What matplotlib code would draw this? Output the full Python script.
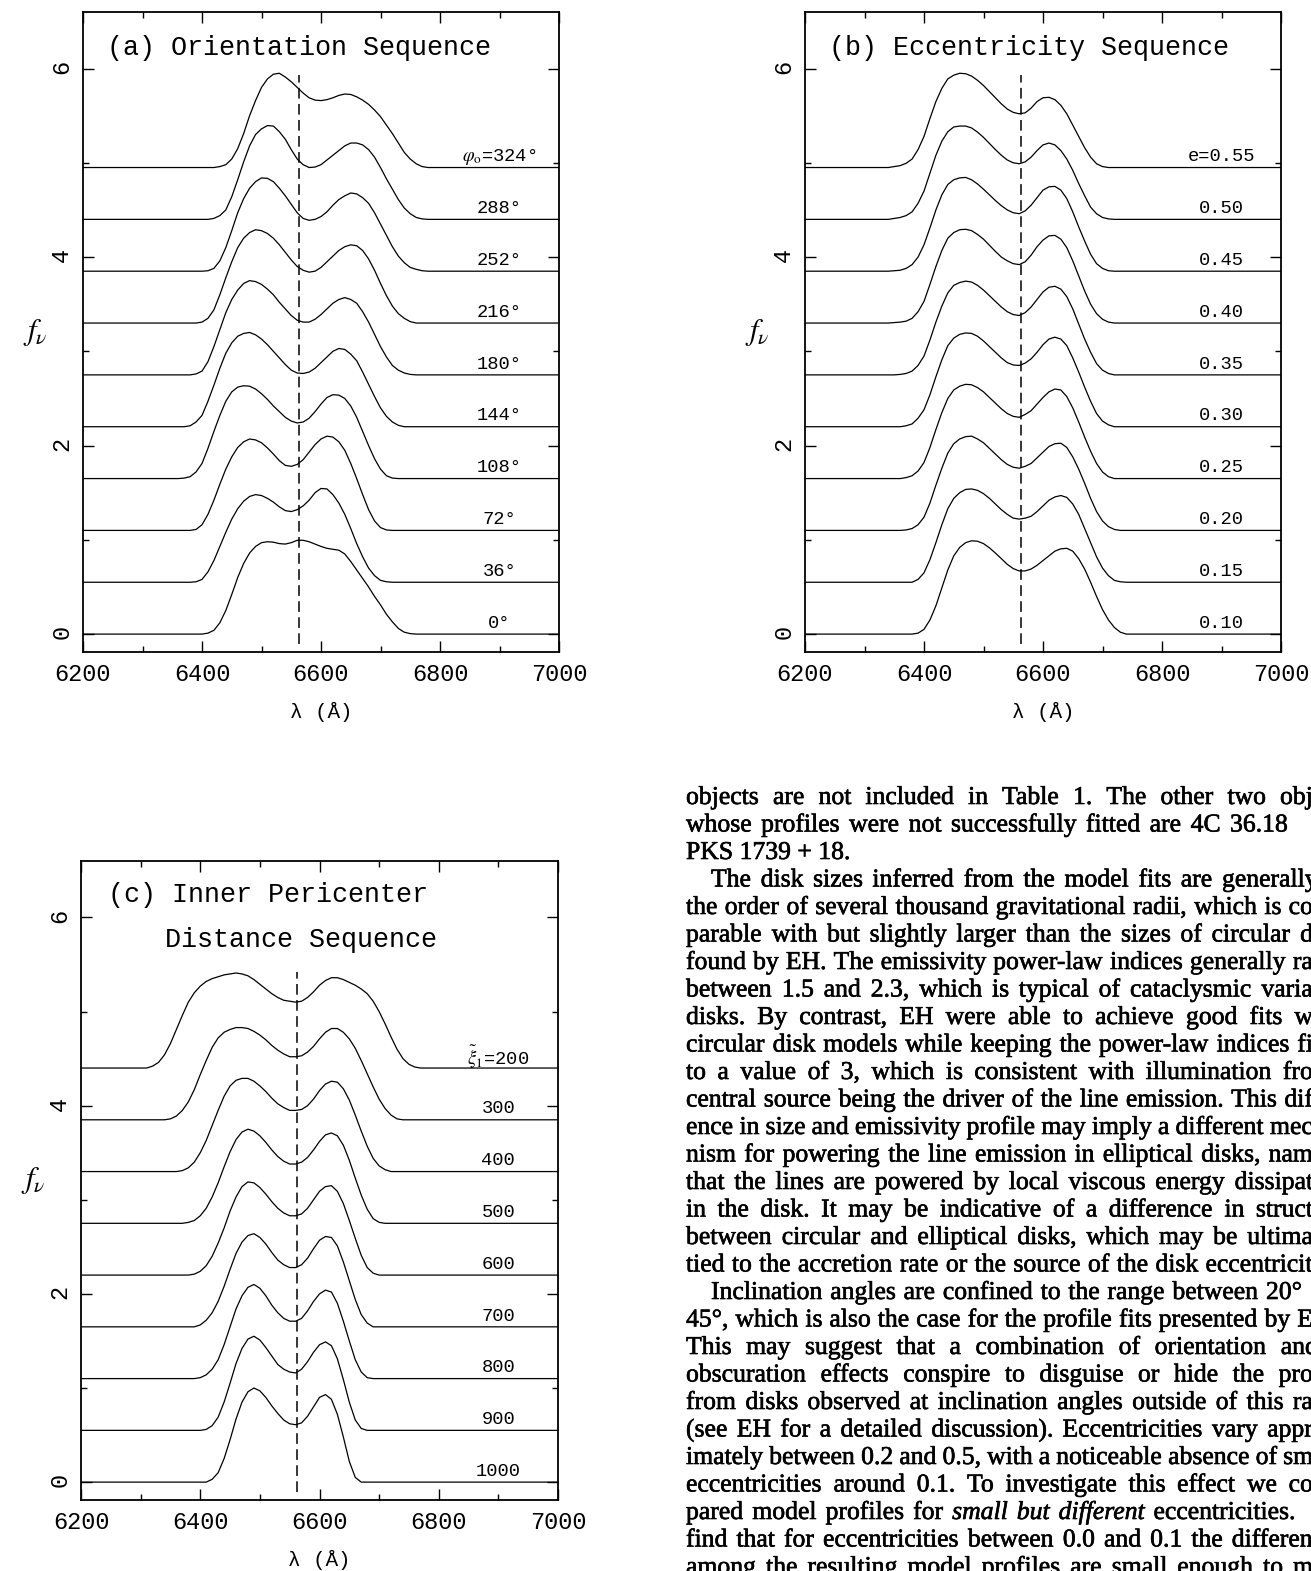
import matplotlib
matplotlib.use("Agg")
import matplotlib.pyplot as plt
import matplotlib.patheffects as pe

# ---------------------------------------------------------------- data
HALPHA = 6563.0
OFFSET = 0.55

# wavelength grid for panels (a) and (b): 6200, 6340..6800 every 10 A, 7000
GRID_AB = [6200] + list(range(6340, 6810, 10)) + [7000]

# panel (a): orientation sequence (bottom to top)
ORIENT_LABELS = ["0°", "36°", "72°", "108°", "144°", "180°", "216°", "252°",
                 "288°", r"$\varphi_{\rm o}$=324°"]
phi0 = ([0] + [0, 0, 0, 0, 0, 0,
               0, 0.01, 0.04, 0.12, 0.25, 0.42, 0.60, 0.75, 0.86, 0.93,
               0.97, 0.98, 0.975, 0.96, 0.955, 0.97, 0.995, 0.995, 0.98, 0.955,
               0.93, 0.91, 0.90, 0.89, 0.85, 0.77, 0.68, 0.59, 0.50, 0.40,
               0.31, 0.21, 0.13, 0.06, 0.02, 0.005, 0, 0, 0, 0,
               0] + [0])
phi36 = ([0] + [0, 0, 0, 0, 0, 0.005,
                0.03, 0.11, 0.23, 0.38, 0.53, 0.67, 0.78, 0.86, 0.91, 0.93,
                0.92, 0.89, 0.85, 0.80, 0.76, 0.75, 0.77, 0.81, 0.87, 0.95,
                0.995, 0.99, 0.93, 0.84, 0.72, 0.57, 0.41, 0.27, 0.15, 0.07,
                0.02, 0.005, 0, 0, 0, 0, 0, 0, 0, 0,
                0] + [0])
phi72 = ([0] + [0, 0, 0, 0, 0, 0.01,
                0.06, 0.17, 0.32, 0.49, 0.65, 0.78, 0.88, 0.94, 0.97, 0.96,
                0.93, 0.875, 0.81, 0.74, 0.69, 0.68, 0.70, 0.75, 0.83, 0.91,
                0.97, 1.00, 0.99, 0.94, 0.85, 0.71, 0.55, 0.38, 0.22, 0.10,
                0.03, 0.005, 0, 0, 0, 0, 0, 0, 0, 0,
                0] + [0])
phi108 = ([0] + [0, 0, 0, 0.005, 0.02, 0.07,
                 0.16, 0.32, 0.50, 0.67, 0.82, 0.92, 0.97, 0.985, 0.98, 0.95,
                 0.90, 0.84, 0.77, 0.71, 0.65, 0.61, 0.59, 0.60, 0.64, 0.71,
                 0.79, 0.86, 0.89, 0.885, 0.85, 0.77, 0.65, 0.50, 0.35, 0.21,
                 0.10, 0.03, 0.005, 0, 0, 0, 0, 0, 0, 0,
                 0] + [0])
phi144 = ([0] + [0, 0, 0, 0, 0.01, 0.05,
                 0.12, 0.27, 0.44, 0.62, 0.78, 0.89, 0.96, 0.99, 1.00, 0.975,
                 0.93, 0.87, 0.80, 0.73, 0.66, 0.60, 0.57, 0.565, 0.58, 0.62,
                 0.68, 0.74, 0.80, 0.83, 0.82, 0.77, 0.70, 0.58, 0.45, 0.32,
                 0.20, 0.11, 0.05, 0.015, 0, 0, 0, 0, 0, 0,
                 0] + [0])
phi180 = ([0] + [0, 0, 0, 0, 0, 0.01,
                 0.04, 0.14, 0.30, 0.48, 0.66, 0.80, 0.90, 0.97, 1.00, 0.99,
                 0.96, 0.91, 0.85, 0.77, 0.70, 0.63, 0.58, 0.56, 0.56, 0.59,
                 0.64, 0.70, 0.76, 0.80, 0.82, 0.80, 0.76, 0.67, 0.56, 0.43,
                 0.30, 0.19, 0.10, 0.05, 0.02, 0.005, 0, 0, 0, 0,
                 0] + [0])
phi216 = ([0] + [0, 0, 0, 0, 0, 0,
                 0.01, 0.05, 0.14, 0.30, 0.48, 0.65, 0.80, 0.90, 0.96, 0.99,
                 0.98, 0.95, 0.90, 0.83, 0.75, 0.67, 0.60, 0.56, 0.54, 0.55,
                 0.59, 0.65, 0.71, 0.77, 0.81, 0.83, 0.82, 0.77, 0.68, 0.56,
                 0.42, 0.29, 0.18, 0.10, 0.05, 0.015, 0, 0, 0, 0,
                 0] + [0])
phi252 = ([0] + [0, 0, 0, 0, 0, 0,
                 0, 0.005, 0.03, 0.11, 0.25, 0.43, 0.62, 0.77, 0.88, 0.95,
                 0.99, 0.985, 0.95, 0.88, 0.80, 0.71, 0.62, 0.56, 0.54, 0.55,
                 0.58, 0.63, 0.70, 0.76, 0.80, 0.83, 0.82, 0.78, 0.72, 0.62,
                 0.50, 0.38, 0.26, 0.16, 0.09, 0.04, 0.02, 0.005, 0, 0,
                 0] + [0])
phi288 = ([0] + [0, 0, 0, 0, 0, 0,
                 0, 0, 0.01, 0.04, 0.10, 0.24, 0.42, 0.61, 0.78, 0.90,
                 0.96, 0.995, 0.99, 0.93, 0.85, 0.74, 0.64, 0.58, 0.55, 0.555,
                 0.58, 0.63, 0.68, 0.73, 0.78, 0.81, 0.81, 0.79, 0.74, 0.66,
                 0.55, 0.43, 0.32, 0.21, 0.12, 0.06, 0.02, 0.005, 0, 0,
                 0] + [0])
phi324 = ([0] + [0, 0, 0, 0, 0, 0,
                 0, 0, 0, 0.01, 0.03, 0.09, 0.20, 0.36, 0.55, 0.71,
                 0.85, 0.94, 0.99, 1.00, 0.96, 0.91, 0.85, 0.79, 0.74, 0.715,
                 0.71, 0.72, 0.74, 0.765, 0.78, 0.775, 0.75, 0.715, 0.67, 0.61,
                 0.54, 0.45, 0.36, 0.26, 0.16, 0.09, 0.04, 0.01, 0, 0,
                 0] + [0])
ORIENT_PROFILES = [phi0, phi36, phi72, phi108, phi144, phi180, phi216, phi252,
                   phi288, phi324]

# panel (b): eccentricity sequence (bottom to top)
ECC_LABELS = ["0.10", "0.15", "0.20", "0.25", "0.30", "0.35", "0.40", "0.45",
              "0.50", "e=0.55"]
e10 = ([0] + [0, 0, 0, 0, 0, 0.01,
              0.05, 0.15, 0.30, 0.49, 0.68, 0.83, 0.92, 0.97, 0.99, 0.985,
              0.96, 0.915, 0.86, 0.80, 0.74, 0.695, 0.67, 0.67, 0.69, 0.73,
              0.78, 0.83, 0.88, 0.905, 0.91, 0.88, 0.80, 0.69, 0.55, 0.40,
              0.26, 0.15, 0.07, 0.02, 0, 0, 0, 0, 0, 0,
              0] + [0])
e15 = ([0] + [0, 0, 0, 0, 0, 0.03,
              0.10, 0.24, 0.42, 0.61, 0.78, 0.89, 0.95, 0.985, 0.99, 0.975,
              0.94, 0.89, 0.83, 0.77, 0.72, 0.68, 0.67, 0.68, 0.70, 0.75,
              0.81, 0.87, 0.905, 0.92, 0.90, 0.83, 0.72, 0.57, 0.42, 0.27,
              0.15, 0.07, 0.02, 0.005, 0, 0, 0, 0, 0, 0,
              0] + [0])
e20 = ([0] + [0, 0, 0, 0.005, 0.02, 0.06,
              0.14, 0.29, 0.48, 0.66, 0.82, 0.92, 0.97, 0.995, 1.00, 0.97,
              0.93, 0.87, 0.81, 0.75, 0.70, 0.67, 0.66, 0.68, 0.71, 0.77,
              0.83, 0.89, 0.92, 0.925, 0.88, 0.78, 0.65, 0.50, 0.34, 0.20,
              0.10, 0.04, 0.01, 0, 0, 0, 0, 0, 0, 0,
              0] + [0])
e25 = ([0] + [0, 0, 0, 0.01, 0.03, 0.08,
              0.17, 0.33, 0.52, 0.70, 0.85, 0.94, 0.98, 1.00, 0.995, 0.965,
              0.92, 0.86, 0.80, 0.74, 0.69, 0.66, 0.65, 0.68, 0.72, 0.79,
              0.86, 0.92, 0.95, 0.94, 0.87, 0.75, 0.60, 0.44, 0.29, 0.16,
              0.07, 0.02, 0, 0, 0, 0, 0, 0, 0, 0,
              0] + [0])
e30 = ([0] + [0, 0, 0, 0.01, 0.03, 0.09,
              0.18, 0.34, 0.53, 0.71, 0.86, 0.94, 0.98, 0.995, 0.99, 0.96,
              0.91, 0.85, 0.79, 0.73, 0.68, 0.655, 0.65, 0.675, 0.72, 0.79,
              0.87, 0.93, 0.95, 0.93, 0.86, 0.73, 0.58, 0.42, 0.27, 0.14,
              0.06, 0.02, 0, 0, 0, 0, 0, 0, 0, 0,
              0] + [0])
e35 = ([0] + [0, 0, 0.005, 0.015, 0.04, 0.10,
              0.20, 0.37, 0.56, 0.73, 0.87, 0.95, 0.98, 0.995, 0.985, 0.95,
              0.90, 0.84, 0.78, 0.72, 0.67, 0.64, 0.63, 0.66, 0.72, 0.80,
              0.88, 0.93, 0.94, 0.91, 0.83, 0.70, 0.54, 0.38, 0.24, 0.12,
              0.05, 0.015, 0, 0, 0, 0, 0, 0, 0, 0,
              0] + [0])
e40 = ([0] + [0, 0.005, 0.01, 0.02, 0.05, 0.12,
              0.23, 0.41, 0.60, 0.77, 0.90, 0.96, 0.99, 0.995, 0.98, 0.94,
              0.89, 0.825, 0.76, 0.70, 0.66, 0.63, 0.62, 0.65, 0.72, 0.81,
              0.88, 0.925, 0.93, 0.89, 0.80, 0.66, 0.50, 0.34, 0.20, 0.10,
              0.04, 0.01, 0, 0, 0, 0, 0, 0, 0, 0,
              0] + [0])
e45 = ([0] + [0, 0.005, 0.01, 0.03, 0.07, 0.15,
              0.28, 0.46, 0.65, 0.81, 0.92, 0.97, 0.99, 0.995, 0.97, 0.925,
              0.87, 0.81, 0.75, 0.695, 0.65, 0.62, 0.61, 0.64, 0.70, 0.78,
              0.86, 0.895, 0.90, 0.86, 0.77, 0.63, 0.47, 0.32, 0.18, 0.08,
              0.03, 0.005, 0, 0, 0, 0, 0, 0, 0, 0,
              0] + [0])
e50 = ([0] + [0, 0.01, 0.02, 0.04, 0.08, 0.17,
              0.30, 0.49, 0.68, 0.83, 0.93, 0.98, 0.99, 0.99, 0.97, 0.925,
              0.87, 0.805, 0.74, 0.68, 0.63, 0.60, 0.59, 0.61, 0.66, 0.73,
              0.79, 0.81, 0.79, 0.73, 0.64, 0.52, 0.38, 0.25, 0.13, 0.06,
              0.02, 0.005, 0, 0, 0, 0, 0, 0, 0, 0,
              0] + [0])
e55 = ([0] + [0, 0.01, 0.02, 0.045, 0.09, 0.19,
              0.33, 0.52, 0.70, 0.84, 0.94, 0.98, 1.00, 0.995, 0.97, 0.925,
              0.87, 0.805, 0.74, 0.675, 0.62, 0.585, 0.57, 0.58, 0.63, 0.70,
              0.74, 0.745, 0.72, 0.66, 0.57, 0.45, 0.33, 0.21, 0.11, 0.04,
              0.01, 0, 0, 0, 0, 0, 0, 0, 0, 0,
              0] + [0])
ECC_PROFILES = [e10, e15, e20, e25, e30, e35, e40, e45, e50, e55]

# panel (c): inner pericenter distance sequence (bottom to top)
GRID_C = [6200] + list(range(6300, 6790, 10)) + [7000]
PERI_LABELS = ["1000", "900", "800", "700", "600", "500", "400", "300",
               r"$\tilde{\xi}_1$=200"]
xi1000 = [0] + [0, 0, 0, 0, 0, 0, 0, 0, 0, 0,
                0, 0, 0.03, 0.10, 0.25, 0.45, 0.67, 0.85, 0.96, 1.00,
                0.97, 0.90, 0.81, 0.73, 0.66, 0.62, 0.61, 0.63, 0.70, 0.80,
                0.90, 0.93, 0.88, 0.72, 0.48, 0.22, 0.05, 0, 0, 0,
                0, 0, 0, 0, 0, 0, 0, 0, 0] + [0]
xi900 = [0] + [0, 0, 0, 0, 0, 0, 0, 0, 0, 0,
               0, 0.01, 0.05, 0.14, 0.30, 0.50, 0.71, 0.87, 0.97, 1.00,
               0.96, 0.88, 0.79, 0.70, 0.65, 0.62, 0.61, 0.65, 0.73, 0.83,
               0.91, 0.94, 0.90, 0.76, 0.54, 0.30, 0.11, 0.02, 0, 0,
               0, 0, 0, 0, 0, 0, 0, 0, 0] + [0]
xi800 = [0] + [0, 0, 0, 0, 0, 0, 0, 0, 0, 0,
               0.01, 0.04, 0.10, 0.20, 0.36, 0.55, 0.74, 0.88, 0.97, 1.00,
               0.96, 0.88, 0.78, 0.70, 0.64, 0.61, 0.61, 0.64, 0.72, 0.82,
               0.90, 0.94, 0.92, 0.80, 0.61, 0.40, 0.20, 0.07, 0.01, 0,
               0, 0, 0, 0, 0, 0, 0, 0, 0] + [0]
xi700 = [0] + [0, 0, 0, 0, 0, 0, 0, 0, 0, 0,
               0.02, 0.07, 0.15, 0.27, 0.43, 0.61, 0.78, 0.90, 0.97, 0.99,
               0.95, 0.88, 0.79, 0.71, 0.66, 0.63, 0.63, 0.66, 0.73, 0.83,
               0.92, 0.96, 0.95, 0.86, 0.69, 0.49, 0.29, 0.13, 0.04, 0,
               0, 0, 0, 0, 0, 0, 0, 0, 0] + [0]
xi600 = [0] + [0, 0, 0, 0, 0, 0, 0, 0, 0, 0.01,
               0.04, 0.10, 0.20, 0.34, 0.50, 0.68, 0.83, 0.94, 0.99, 0.98,
               0.93, 0.86, 0.78, 0.71, 0.66, 0.63, 0.63, 0.65, 0.71, 0.80,
               0.89, 0.94, 0.95, 0.89, 0.76, 0.58, 0.39, 0.21, 0.08, 0.02,
               0, 0, 0, 0, 0, 0, 0, 0, 0] + [0]
xi500 = [0] + [0, 0, 0, 0, 0, 0, 0, 0, 0.01, 0.03,
               0.08, 0.16, 0.28, 0.43, 0.60, 0.76, 0.89, 0.97, 1.00, 0.98,
               0.93, 0.86, 0.78, 0.71, 0.66, 0.63, 0.63, 0.65, 0.70, 0.78,
               0.87, 0.94, 0.96, 0.93, 0.83, 0.67, 0.48, 0.30, 0.15, 0.05,
               0.01, 0, 0, 0, 0, 0, 0, 0, 0] + [0]
xi400 = [0] + [0, 0, 0, 0, 0, 0, 0, 0.01, 0.04, 0.10,
               0.20, 0.33, 0.49, 0.65, 0.80, 0.91, 0.97, 0.99, 0.99, 0.96,
               0.91, 0.85, 0.78, 0.72, 0.68, 0.65, 0.65, 0.66, 0.70, 0.77,
               0.86, 0.93, 0.96, 0.95, 0.88, 0.76, 0.60, 0.43, 0.27, 0.14,
               0.06, 0.02, 0, 0, 0, 0, 0, 0, 0] + [0]
xi300 = [0] + [0, 0, 0, 0, 0, 0.01, 0.04, 0.10, 0.19, 0.32,
               0.48, 0.63, 0.77, 0.87, 0.93, 0.96, 0.98, 0.98, 0.97, 0.94,
               0.90, 0.85, 0.79, 0.74, 0.70, 0.67, 0.67, 0.68, 0.72, 0.78,
               0.86, 0.93, 0.97, 0.97, 0.93, 0.86, 0.76, 0.63, 0.49, 0.35,
               0.22, 0.12, 0.05, 0.01, 0, 0, 0, 0, 0] + [0]
xi200 = [0] + [0, 0, 0.02, 0.06, 0.14, 0.26, 0.41, 0.56, 0.70, 0.80,
               0.87, 0.92, 0.95, 0.97, 0.99, 1.00, 1.01, 1.00, 0.98, 0.94,
               0.89, 0.84, 0.79, 0.75, 0.72, 0.71, 0.70, 0.71, 0.75, 0.81,
               0.88, 0.93, 0.96, 0.96, 0.94, 0.91, 0.88, 0.84, 0.79, 0.71,
               0.60, 0.47, 0.33, 0.20, 0.10, 0.04, 0.01, 0, 0] + [0]
PERI_PROFILES = [xi1000, xi900, xi800, xi700, xi600, xi500, xi400, xi300, xi200]

DASH_TOP = {"a": 5.93, "b": 5.93, "c": 5.42}
DASH_BOTTOM = -0.11
LABEL_X = 6900

XMAJOR = [6200, 6400, 6600, 6800, 7000]
XMINOR = [6300, 6500, 6700, 6900]
YMAJOR = [0, 2, 4, 6]
YMINOR = [1, 3, 5]

TEXT_LINES = [
    "objects are not included in Table 1. The other two obj",
    "whose profiles were not successfully fitted are 4C 36.18",
    "PKS 1739 + 18.",
    "The disk sizes inferred from the model fits are generally",
    "the order of several thousand gravitational radii, which is co",
    "parable with but slightly larger than the sizes of circular d",
    "found by EH. The emissivity power-law indices generally ra",
    "between 1.5 and 2.3, which is typical of cataclysmic varia",
    "disks. By contrast, EH were able to achieve good fits w",
    "circular disk models while keeping the power-law indices fi",
    "to a value of 3, which is consistent with illumination fro",
    "central source being the driver of the line emission. This dif",
    "ence in size and emissivity profile may imply a different mec",
    "nism for powering the line emission in elliptical disks, nam",
    "that the lines are powered by local viscous energy dissipat",
    "in the disk. It may be indicative of a difference in struct",
    "between circular and elliptical disks, which may be ultima",
    "tied to the accretion rate or the source of the disk eccentricit",
    "Inclination angles are confined to the range between 20°",
    "45°, which is also the case for the profile fits presented by E",
    "This may suggest that a combination of orientation and",
    "obscuration effects conspire to disguise or hide the pro",
    "from disks observed at inclination angles outside of this ra",
    "(see EH for a detailed discussion). Eccentricities vary appr",
    "imately between 0.2 and 0.5, with a noticeable absence of sm",
    "eccentricities around 0.1. To investigate this effect we co",
    "pared model profiles for *small* *but* *different* eccentricities.",
    "find that for eccentricities between 0.0 and 0.1 the differen",
    "among the resulting model profiles are small enough to m",
]
INDENTED = {3, 18}
RIGHT_END = {1: 1288, 2: None, 3: 1318, 18: 1302, 20: 1318, 26: 1296}

# ---------------------------------------------------------------- layout
W, H = 1311, 1571
DPI = 100
MONO = "Liberation Mono"
SERIF = "Liberation Serif"
plt.rcParams["mathtext.fontset"] = "stix"

fig = plt.figure(figsize=(W / DPI, H / DPI), dpi=DPI)
fig.patch.set_facecolor("white")


def px_axes(l, t, r, b):
    return fig.add_axes([l / W, 1 - b / H, (r - l) / W, (b - t) / H])


def draw_panel(ax, grid, profiles, labels, dash_top):
    for k, (prof, lab) in enumerate(zip(profiles, labels)):
        assert len(prof) == len(grid)
        base = k * OFFSET
        ax.plot(grid, [base + v for v in prof], color="black", lw=0.9,
                solid_joinstyle="round")
        ax.text(LABEL_X, base + 0.115, lab, ha="center", va="center",
                fontsize=13.5, family=MONO, color="black")
    ax.plot([HALPHA, HALPHA], [DASH_BOTTOM, dash_top], color="black", lw=1.1,
            linestyle=(0, (7, 3.5)))
    ax.set_xlim(6200, 7000)
    ax.set_ylim(-0.19, 6.6)
    ax.set_xticks(XMAJOR)
    ax.set_xticks(XMINOR, minor=True)
    ax.set_yticks(YMAJOR)
    ax.set_yticks(YMINOR, minor=True)
    ax.tick_params(which="both", direction="in", top=True, right=True,
                   width=1.0, color="black")
    ax.tick_params(which="major", length=8)
    ax.tick_params(which="minor", length=4)
    ax.tick_params(axis="x", pad=8, labelsize=17)
    ax.tick_params(axis="y", pad=7, labelsize=17, labelrotation=90)
    for lbl in ax.get_xticklabels() + ax.get_yticklabels():
        lbl.set_family(MONO)
    for s in ax.spines.values():
        s.set_linewidth(1.3)
    ax.text(-0.1, 0.5, r"$f_\nu$", transform=ax.transAxes, ha="center",
            va="center", fontsize=22)
    ax.text(0.5, -0.094, "λ (Å)", transform=ax.transAxes, ha="center",
            va="center", fontsize=15, family=MONO)


ax_a = px_axes(83, 12, 559, 652)
draw_panel(ax_a, GRID_AB, ORIENT_PROFILES, ORIENT_LABELS, DASH_TOP["a"])
ax_a.text(0.05, 0.944, "(a) Orientation Sequence", transform=ax_a.transAxes,
          ha="left", va="center", fontsize=19.3, family=MONO)

ax_b = px_axes(805, 12, 1281, 652)
draw_panel(ax_b, GRID_AB, ECC_PROFILES, ECC_LABELS, DASH_TOP["b"])
ax_b.text(0.05, 0.944, "(b) Eccentricity Sequence", transform=ax_b.transAxes,
          ha="left", va="center", fontsize=19.3, family=MONO)

ax_c = px_axes(81, 861, 558, 1500)
draw_panel(ax_c, GRID_C, PERI_PROFILES, PERI_LABELS, DASH_TOP["c"])
ax_c.text(0.057, 0.947, "(c) Inner Pericenter", transform=ax_c.transAxes,
          ha="left", va="center", fontsize=19.3, family=MONO)
ax_c.text(0.176, 0.877, "Distance Sequence", transform=ax_c.transAxes,
          ha="left", va="center", fontsize=19.3, family=MONO)

# ---------------------------------------------------------------- body text
TFS = 18.5
renderer = fig.canvas.get_renderer()
BOLDEN = [pe.withStroke(linewidth=0.45, foreground="black")]


def word_width(s, italic):
    t = fig.text(0, 0, s, fontsize=TFS, family=SERIF,
                 style="italic" if italic else "normal")
    w = t.get_window_extent(renderer=renderer).width
    t.remove()
    return w


X0 = 686
for i, line in enumerate(TEXT_LINES):
    y_base = 804 + 27.5 * i
    x_start = X0 + (25 if i in INDENTED else 0)
    end = RIGHT_END.get(i, 1313)
    if end is None:
        fig.text(x_start / W, 1 - y_base / H, line, fontsize=TFS, family=SERIF,
                 va="baseline", ha="left", path_effects=BOLDEN)
        continue
    toks = []
    for w in line.split(" "):
        it = w.startswith("*") and w.endswith("*")
        toks.append((w.strip("*"), it))
    widths = [word_width(w, it) for w, it in toks]
    gap = (end - x_start - sum(widths)) / max(len(toks) - 1, 1)
    x = x_start
    for (w, it), wd in zip(toks, widths):
        fig.text(x / W, 1 - y_base / H, w, fontsize=TFS, family=SERIF,
                 va="baseline", ha="left", style="italic" if it else "normal",
                 path_effects=BOLDEN)
        x += wd + gap

fig.savefig("out.png", dpi=DPI, facecolor="white")
